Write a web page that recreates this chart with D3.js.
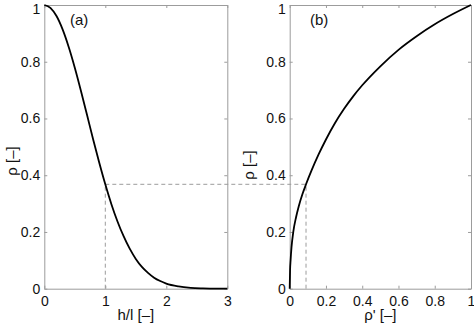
<!DOCTYPE html>
<html lang="en">
<head>
    <meta charset="UTF-8">
    <title>Correlation functions</title>
    <script src="https://d3js.org/d3.v7.min.js"></script>
    <style>
        body {
            margin: 0;
            background: #fff;
        }

        svg text {
            font-family: 'Liberation Sans', Arial, Helvetica, sans-serif;
            font-size: 15px;
            fill: #111;
        }

        .axis path,
        .axis line {
            stroke: #9c9c9c;
        }
    </style>
</head>
<body>
    <svg width="474" height="325"></svg>

    <script>
        // panel (a): rho against h/l
        const hl = [0, 0.1, 0.2, 0.3, 0.4, 0.5, 0.6, 0.7, 0.8, 0.9, 1.0, 1.1, 1.2, 1.3, 1.4, 1.5, 1.6, 1.7, 1.8, 1.9, 2.0, 2.2, 2.4, 2.6, 2.8, 3.0];
        const rhoA = [1, 0.990, 0.961, 0.914, 0.852, 0.779, 0.698, 0.613, 0.527, 0.445, 0.368, 0.298, 0.237, 0.185, 0.141, 0.105, 0.077, 0.056, 0.039, 0.027, 0.018, 0.008, 0.003, 0.001, 0.0, 0.0];

        // panel (b): rho against rho'
        const rhoPrime = [0, 0.002, 0.005, 0.01, 0.02, 0.035, 0.05, 0.07, 0.09, 0.12, 0.16, 0.2, 0.25, 0.3, 0.35, 0.4, 0.5, 0.6, 0.7, 0.8, 0.9, 1.0];
        const rhoB = [0, 0.065, 0.101, 0.146, 0.201, 0.252, 0.291, 0.333, 0.368, 0.416, 0.474, 0.526, 0.584, 0.634, 0.678, 0.717, 0.784, 0.842, 0.890, 0.932, 0.968, 1.0];

        const yTicks = [0, 0.2, 0.4, 0.6, 0.8, 1];
        const xTicksA = [0, 1, 2, 3];
        const xTicksB = [0, 0.2, 0.4, 0.6, 0.8, 1];

        // dashed guide: h/l = 1 -> rho = 0.368 -> rho' = 0.09
        const refH = 1, refRho = 0.368, refRhoPrime = 0.09;

        const svg = d3.select("svg");

        const y = d3.scaleLinear().domain([0, 1]).range([288.7, 5]);
        const xA = d3.scaleLinear().domain([0, 3]).range([44.3, 227.3]);
        const xB = d3.scaleLinear().domain([0, 1]).range([289.7, 471]);

        function drawAxes(x, xTicks, xTitle, yTitleX, yTitleY, tag, tagX) {
            const [x0, x1] = x.range();
            const [y0, y1] = y.range();

            svg.append("g").attr("class", "axis")
                .attr("transform", `translate(0,${y0})`)
                .call(d3.axisBottom(x).tickValues(xTicks).tickSize(-3).tickSizeOuter(0).tickPadding(7).tickFormat(d => d))
                .call(g => g.selectAll("text").attr("fill", null));

            svg.append("g").attr("class", "axis")
                .attr("transform", `translate(0,${y1})`)
                .call(d3.axisTop(x).tickValues(xTicks).tickSize(-3).tickSizeOuter(0).tickFormat(""));

            // top label "1" sits a little lower so it stays inside the picture
            svg.append("g").attr("class", "axis")
                .attr("transform", `translate(${x0},0)`)
                .call(d3.axisLeft(y).tickValues(yTicks).tickSize(-3).tickSizeOuter(0).tickPadding(4).tickFormat(d => d))
                .call(g => g.selectAll("text").attr("fill", null)
                    .attr("dy", d => d === 1 ? "0.58em" : "0.32em"));

            svg.append("g").attr("class", "axis")
                .attr("transform", `translate(${x1},0)`)
                .call(d3.axisRight(y).tickValues(yTicks).tickSize(-3).tickSizeOuter(0).tickFormat(""));

            svg.selectAll(".axis text").style("font-size", "14px");

            svg.append("text")
                .attr("x", (x0 + x1) / 2)
                .attr("y", 320)
                .attr("text-anchor", "middle")
                .text(xTitle);

            svg.append("text")
                .attr("transform", `translate(${yTitleX},${yTitleY}) rotate(-90)`)
                .attr("text-anchor", "middle")
                .text("ρ [–]");

            svg.append("text")
                .attr("x", tagX)
                .attr("y", 25)
                .text(tag);
        }

        drawAxes(xA, xTicksA, "h/l [–]", 17, 161, "(a)", 70);
        drawAxes(xB, xTicksB, "ρ' [–]", 254, 165, "(b)", 310);

        // dashed guides
        const dash = svg.append("g")
            .attr("fill", "none")
            .attr("stroke", "#9c9c9c")
            .attr("stroke-width", 1)
            .attr("stroke-dasharray", "4,3");

        dash.append("line")
            .attr("x1", xA(refH)).attr("x2", xA(refH))
            .attr("y1", y(0)).attr("y2", y(refRho));
        dash.append("line")
            .attr("x1", xA(refH)).attr("x2", xB(refRhoPrime))
            .attr("y1", y(refRho)).attr("y2", y(refRho));
        dash.append("line")
            .attr("x1", xB(refRhoPrime)).attr("x2", xB(refRhoPrime))
            .attr("y1", y(0)).attr("y2", y(refRho));

        // curves
        const lineA = d3.line().x(d => xA(d[0])).y(d => y(d[1])).curve(d3.curveMonotoneX);
        const lineB = d3.line().x(d => xB(d[0])).y(d => y(d[1])).curve(d3.curveMonotoneX);

        svg.append("path")
            .datum(d3.zip(hl, rhoA))
            .attr("fill", "none")
            .attr("stroke", "#000")
            .attr("stroke-width", 1.8)
            .attr("d", lineA);

        svg.append("path")
            .datum(d3.zip(rhoPrime, rhoB))
            .attr("fill", "none")
            .attr("stroke", "#000")
            .attr("stroke-width", 1.8)
            .attr("d", lineB);
    </script>
</body>
</html>
